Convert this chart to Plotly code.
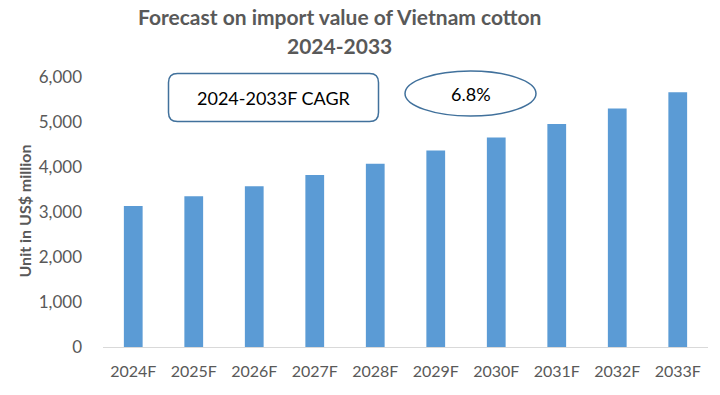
import plotly.graph_objects as go

years = ["2024F", "2025F", "2026F", "2027F", "2028F", "2029F", "2030F", "2031F", "2032F", "2033F"]
import_value = [3133, 3348, 3570, 3820, 4071, 4368, 4656, 4958, 5299, 5661]
y_ticks = [0, 1000, 2000, 3000, 4000, 5000, 6000]
y_tick_labels = ["0", "1,000", "2,000", "3,000", "4,000", "5,000", "6,000"]
title_lines = ["Forecast on import value of Vietnam cotton", "2024-2033"]
cagr_label = "2024-2033F CAGR"
cagr_value = "6.8%"

W, H = 720, 395
ML, MR, MT, MB = 103, 12, 77, 48
PW = W - ML - MR
PH = H - MT - MB

def px(x):
    return (x - ML) / PW

def py(y):
    return (H - MB - y) / PH

GRAY = "#595959"
FONT = "Lato"

fig = go.Figure()
fig.add_trace(go.Bar(x=years, y=import_value, marker_color="#5B9BD5",
                     marker_line_width=0, hoverinfo="x+y"))

# rounded rectangle for CAGR label
x0, x1, y0, y1, r = 168.5, 378.5, 73.5, 121.5, 9
path = (f"M {px(x0 + r)},{py(y0)} L {px(x1 - r)},{py(y0)} "
        f"Q {px(x1)},{py(y0)} {px(x1)},{py(y0 + r)} "
        f"L {px(x1)},{py(y1 - r)} Q {px(x1)},{py(y1)} {px(x1 - r)},{py(y1)} "
        f"L {px(x0 + r)},{py(y1)} Q {px(x0)},{py(y1)} {px(x0)},{py(y1 - r)} "
        f"L {px(x0)},{py(y0 + r)} Q {px(x0)},{py(y0)} {px(x0 + r)},{py(y0)} Z")
fig.add_shape(type="path", path=path, xref="paper", yref="paper",
              line=dict(color="#41719C", width=1.5), fillcolor="white")
fig.add_shape(type="circle", xref="paper", yref="paper",
              x0=px(405), x1=px(536), y0=py(116), y1=py(71),
              line=dict(color="#41719C", width=1.5), fillcolor="white")

def note(text, x, y, size, color, bold=False, angle=0):
    fig.add_annotation(text=text, xref="paper", yref="paper",
                       x=px(x), y=py(y), xanchor="center", yanchor="middle",
                       showarrow=False, textangle=angle,
                       font=dict(family=FONT, size=size, color=color,
                                 weight="bold" if bold else "normal"))

note(cagr_label, 273.5, 97.5, 18, "black")
note(cagr_value, 471, 93.5, 18, "black")
note("Unit in US$ million", 24, 211.5, 16, GRAY, bold=True, angle=-90)
note(title_lines[0], 339.5, 17, 21, GRAY, bold=True)
note(title_lines[1], 339.5, 45, 21, GRAY, bold=True)

fig.update_layout(
    width=W, height=H,
    margin=dict(l=ML, r=MR, t=MT, b=MB, autoexpand=False),
    paper_bgcolor="white", plot_bgcolor="white",
    bargap=0.69,
    showlegend=False,
    xaxis=dict(showline=True, linecolor="#D9D9D9", linewidth=1,
               showgrid=False, ticks="", ticklabelstandoff=10,
               automargin=False,
               tickfont=dict(family=FONT, size=16, color=GRAY),
               range=[-0.5, 9.5]),
    yaxis=dict(range=[0, 6000], tickvals=y_ticks, ticktext=y_tick_labels,
               showgrid=False, showline=False, zeroline=False, ticks="",
               ticklabelstandoff=20, automargin=False,
               tickfont=dict(family=FONT, size=17, color=GRAY)),
)

fig.write_html("out.html", config={"displayModeBar": False},
               post_script="document.body.style.margin='0';document.body.style.overflow='hidden';")
